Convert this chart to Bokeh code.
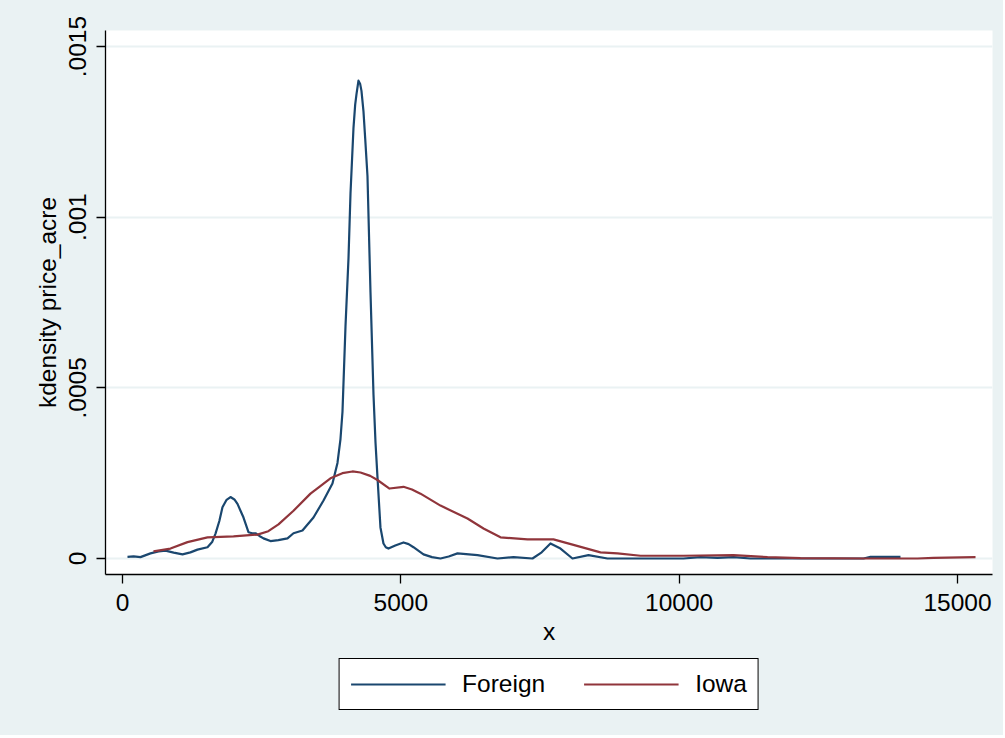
from bokeh.plotting import figure
from bokeh.layouts import column
from bokeh.models import FixedTicker, Legend, LegendItem, Range1d
from bokeh.embed import file_html
from bokeh.resources import INLINE

# Foreign kernel density
foreign_x = [90, 200, 323, 503, 650, 772, 920, 1078, 1220, 1347, 1527, 1610, 1671, 1740, 1796,
             1870, 1940, 2010, 2066, 2120, 2174, 2263, 2330, 2389, 2460, 2533, 2658, 2800,
             2964, 3072, 3233, 3431, 3611, 3772, 3862, 3916, 3952, 4006, 4060, 4096, 4149,
             4180, 4203, 4239, 4270, 4293, 4329, 4360, 4401, 4455, 4509, 4545, 4580, 4634,
             4688, 4730, 4778, 4900, 5048, 5140, 5227, 5407, 5560, 5712, 5860, 6018, 6377,
             6736, 7024, 7365, 7530, 7688, 7868, 8083, 8371, 8712, 10077, 10383, 10689,
             10976, 11281, 13311, 13437, 13975]
foreign_y = [0.000005, 0.000006, 0.000004, 0.000015, 0.000021, 0.000023, 0.000017, 0.000012,
             0.000018, 0.000026, 0.000033, 0.000048, 0.000073, 0.00011, 0.00015, 0.000172,
             0.00018, 0.000173, 0.00016, 0.00014, 0.00012, 0.000077, 0.000074, 0.000074,
             0.000066, 0.000059, 0.000051, 0.000054, 0.000059, 0.000074, 0.000082, 0.00012,
             0.00017, 0.00022, 0.00028, 0.00035, 0.00043, 0.00068, 0.00088, 0.00107, 0.00126,
             0.00133, 0.00136, 0.0014, 0.00139, 0.00137, 0.00131, 0.00123, 0.00112, 0.00078,
             0.00048, 0.00034, 0.00024, 0.000091, 0.000044, 0.000033, 0.000029, 0.000038,
             0.000047, 0.000042, 0.000033, 0.000012, 0.000004, 0.0, 0.000006, 0.000015,
             0.00001, 0.0, 0.000004, 0.0, 0.000018, 0.000044, 0.000029, 0.0, 0.00001, 0.0,
             0.0, 0.000004, 0.000002, 0.000004, 0.0, 0.0, 0.000005, 0.000005]

# Iowa kernel density
iowa_x = [557, 862, 1168, 1527, 1994, 2425, 2620, 2802, 3072, 3377, 3560, 3736, 3950, 4131,
          4275, 4450, 4580, 4796, 5048, 5200, 5353, 5712, 6197, 6485, 6790, 7275, 7742,
          8101, 8586, 8892, 9305, 10077, 10976, 11586, 12179, 13383, 14281, 14568, 15323]
iowa_y = [0.000021, 0.000029, 0.000048, 0.000062, 0.000065, 0.00007, 0.00008, 0.0001,
          0.00014, 0.00019, 0.000213, 0.000235, 0.00025, 0.000255, 0.000252, 0.000242,
          0.00023, 0.000205, 0.00021, 0.000202, 0.00019, 0.000155, 0.000117, 0.000088,
          0.000062, 0.000056, 0.000056, 0.00004, 0.000018, 0.000015, 0.000008, 0.000008,
          0.00001, 0.000004, 0.000001, 0.0, 0.0, 0.000002, 0.000004]

series_labels = ["Foreign", "Iowa"]
series_colors = ["#1A476F", "#90353B"]

x_ticks = [0, 5000, 10000, 15000]
y_ticks = [0, 0.0005, 0.001, 0.0015]
y_tick_labels = {0: "0", 0.0005: ".0005", 0.001: ".001", 0.0015: ".0015"}

FONT = "Liberation Sans"
FS = "24.5px"
BG = "#EAF2F3"
W = 1003

p = figure(width=W, height=658, output_backend="svg", toolbar_location=None,
           x_range=Range1d(-305, 15628), y_range=Range1d(-0.0000469, 0.001547),
           min_border_left=105, min_border_right=W - 992, min_border_top=30, min_border_bottom=84)
p.border_fill_color = BG
p.background_fill_color = "white"
p.outline_line_color = None

p.line(foreign_x, foreign_y, line_color=series_colors[0], line_width=2.2, line_join="round")
p.line(iowa_x, iowa_y, line_color=series_colors[1], line_width=2.2, line_join="round")

p.xaxis.ticker = FixedTicker(ticks=x_ticks)
p.yaxis.ticker = FixedTicker(ticks=y_ticks)
p.yaxis.major_label_overrides = y_tick_labels
p.yaxis.major_label_orientation = "vertical"
p.xaxis.axis_label = "x"
p.yaxis.axis_label = "kdensity price_acre"

for ax in (p.xaxis, p.yaxis):
    ax.axis_line_color = "black"
    ax.axis_line_width = 1.3
    ax.major_tick_line_color = "black"
    ax.major_tick_line_width = 1.3
    ax.major_tick_out = 9
    ax.major_tick_in = 0
    ax.minor_tick_line_color = None
    ax.major_label_text_font = FONT
    ax.major_label_text_font_size = FS
    ax.major_label_text_color = "black"
    ax.axis_label_text_font = FONT
    ax.axis_label_text_font_size = FS
    ax.axis_label_text_font_style = "normal"
    ax.axis_label_text_color = "black"
p.xaxis.major_label_standoff = 10
p.yaxis.major_label_standoff = 10
p.xaxis.axis_label_standoff = 4
p.yaxis.axis_label_standoff = 6

p.xgrid.grid_line_color = None
p.ygrid.grid_line_color = BG
p.ygrid.grid_line_width = 2

# legend strip below the chart
q = figure(width=W, height=77, output_backend="svg", toolbar_location=None,
           x_range=Range1d(0, 1), y_range=Range1d(0, 1),
           min_border_left=105, min_border_right=W - 992, min_border_top=0, min_border_bottom=0)
q.axis.visible = False
q.grid.visible = False
q.outline_line_color = None
q.border_fill_color = BG
q.background_fill_color = BG
items = []
for lab, col in zip(series_labels, series_colors):
    r = q.line(x=[5, 6], y=[5, 6], line_color=col, line_width=2.2)
    items.append(LegendItem(label=lab, renderers=[r]))
legend = Legend(items=items, orientation="horizontal", location="top_center",
                label_text_font=FONT, label_text_font_size=FS, label_text_color="black",
                glyph_width=95, glyph_height=24, label_standoff=17, spacing=38,
                padding=11, margin=0,
                border_line_color="black", border_line_width=1.3, border_line_alpha=1.0,
                background_fill_color="white", background_fill_alpha=1.0)
q.add_layout(legend, "center")

layout = column(p, q, spacing=0, styles={"background-color": BG})
open("out.html", "w").write(file_html(layout, INLINE))
